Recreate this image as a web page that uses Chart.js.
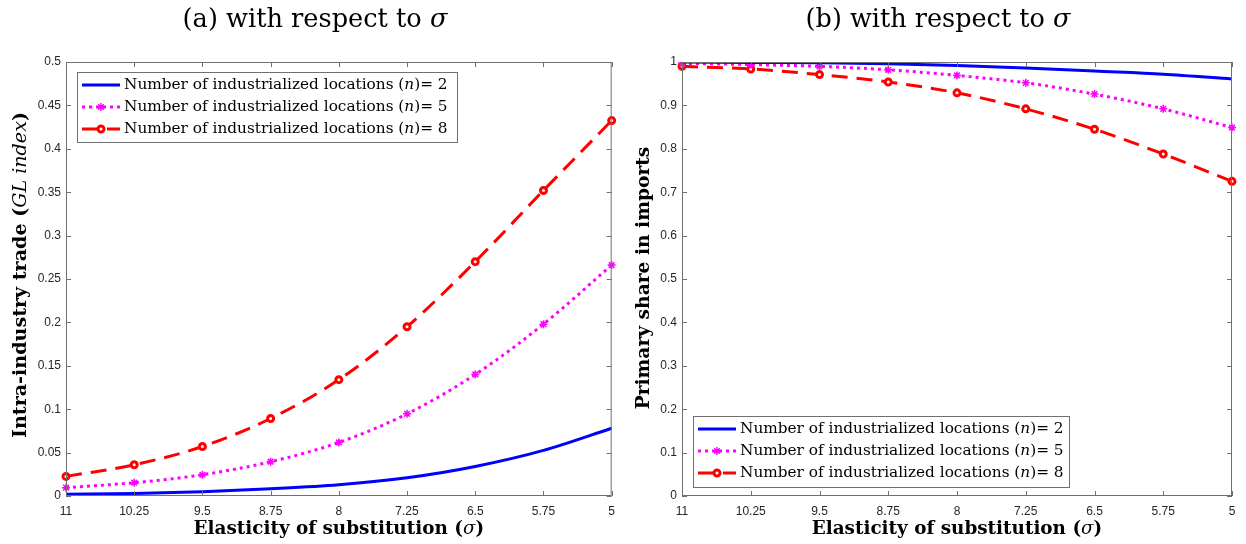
<!DOCTYPE html>
<html>
<head>
<meta charset="utf-8">
<script src="https://cdn.jsdelivr.net/npm/chart.js@4.4.1/dist/chart.umd.min.js"></script>
<style>
  body { margin: 0; background: #fff; width: 1246px; height: 544px; overflow: hidden; position: relative; }
  .panel { position: absolute; top: 0; width: 623px; height: 544px; }
</style>
</head>
<body>
<div class="panel" style="left:0"><canvas id="chartA" width="623" height="544"></canvas></div>
<div class="panel" style="left:623px"><canvas id="chartB" width="623" height="544"></canvas></div>
<script>
// elasticity of substitution (sigma), decreasing left to right
const sigmaLabels = ['11', '10.25', '9.5', '8.75', '8', '7.25', '6.5', '5.75', '5'];

// (a) intra-industry trade, GL index
const glN2 = [0.002, 0.003, 0.005, 0.0084, 0.013, 0.021, 0.034, 0.0525, 0.078];
const glN5 = [0.0096, 0.0153, 0.0245, 0.0395, 0.0617, 0.0947, 0.14, 0.198, 0.266];
const glN8 = [0.0226, 0.036, 0.057, 0.0893, 0.134, 0.195, 0.27, 0.352, 0.4325];

// (b) primary share in imports
const shareN2 = [1.0, 0.999, 0.998, 0.996, 0.992, 0.986, 0.979, 0.972, 0.961];
const shareN5 = [0.997, 0.994, 0.99, 0.982, 0.969, 0.952, 0.926, 0.892, 0.849];
const shareN8 = [0.99, 0.984, 0.971, 0.954, 0.929, 0.892, 0.845, 0.788, 0.725];

const yTicksA = [0, 0.05, 0.1, 0.15, 0.2, 0.25, 0.3, 0.35, 0.4, 0.45, 0.5];
const yTicksB = [0, 0.1, 0.2, 0.3, 0.4, 0.5, 0.6, 0.7, 0.8, 0.9, 1];

const seriesNames = ['2', '5', '8'];

const SERIF = '"DejaVu Serif", "Liberation Serif", serif';
const SANS = '"Liberation Sans", Arial, sans-serif';

function makeDatasets(a, b, c) {
  return [
    { data: a, borderColor: '#0000ff', borderWidth: 3, pointRadius: 0, fill: false },
    { data: b, borderColor: '#ff00ff', borderWidth: 3, borderDash: [3, 4],
      pointStyle: 'star', pointRadius: 4, pointBorderWidth: 1.5, pointBorderColor: '#ff00ff',
      pointBackgroundColor: '#ff00ff', fill: false },
    { data: c, borderColor: '#ff0000', borderWidth: 3, borderDash: [16, 9],
      pointStyle: 'circle', pointRadius: 3, pointBorderWidth: 3, pointBorderColor: '#ff0000',
      pointBackgroundColor: '#ffffff', fill: false }
  ];
}

// italic parts are math symbols: never bold
function fontOf(size, italic, bold) {
  return (italic ? 'italic ' : (bold ? 'bold ' : '')) + size + 'px ' + SERIF;
}

function richWidth(ctx, parts, size, bold) {
  let w = 0;
  parts.forEach(p => { ctx.font = fontOf(size, p[1], bold); w += ctx.measureText(p[0]).width; });
  return w;
}

// font size so that the text spans the wanted width
function fitSize(ctx, parts, width, bold) {
  return 20 * width / richWidth(ctx, parts, 20, bold);
}

// draw text made of [string, italic] parts
function drawRich(ctx, parts, x, y, size, bold, align) {
  const total = richWidth(ctx, parts, size, bold);
  let cx = align === 'left' ? x : x - total / 2;
  ctx.textBaseline = 'middle';
  ctx.textAlign = 'left';
  parts.forEach(p => {
    ctx.font = fontOf(size, p[1], bold);
    ctx.fillText(p[0], cx, y);
    cx += ctx.measureText(p[0]).width;
  });
}

const decorPlugin = {
  id: 'decor',
  afterDatasetsDraw(chart, args, opts) {
    const ctx = chart.ctx;
    const area = chart.chartArea;
    const xs = chart.scales.x, ys = chart.scales.y;
    ctx.save();
    // frame with inward ticks
    ctx.strokeStyle = '#707070';
    ctx.lineWidth = 1;
    ctx.setLineDash([]);
    ctx.strokeRect(area.left + 0.5, area.top + 0.5, area.width - 1, area.height - 1);
    ctx.beginPath();
    xs.ticks.forEach((t, i) => {
      const px = Math.round(xs.getPixelForTick(i)) + 0.5;
      ctx.moveTo(px, area.bottom); ctx.lineTo(px, area.bottom - 5);
      ctx.moveTo(px, area.top); ctx.lineTo(px, area.top + 5);
    });
    ys.ticks.forEach(t => {
      const py = Math.round(ys.getPixelForValue(t.value)) + 0.5;
      ctx.moveTo(area.left, py); ctx.lineTo(area.left + 5, py);
      ctx.moveTo(area.right, py); ctx.lineTo(area.right - 5, py);
    });
    ctx.stroke();

    ctx.fillStyle = '#000';
    // panel title
    drawRich(ctx, opts.title, 315, 20, fitSize(ctx, opts.title, 265, false), false, 'center');
    // x axis title
    const xTitle = [['Elasticity of substitution (', false], ['σ', true], [')', false]];
    drawRich(ctx, xTitle, (area.left + area.right) / 2, 529, fitSize(ctx, xTitle, 291, true), true, 'center');
    // y axis title
    ctx.save();
    ctx.translate(opts.yTitleX, opts.yTitleY);
    ctx.rotate(-Math.PI / 2);
    drawRich(ctx, opts.yTitle, 0, 0, fitSize(ctx, opts.yTitle, opts.yTitleW, true), true, 'center');
    ctx.restore();

    // legend box
    const lg = opts.legend;
    const rows = seriesNames.map(n => [['Number of industrialized locations (', false], ['n', true], [')= ' + n, false]]);
    const lgSize = fitSize(ctx, rows[2], 324, false);
    ctx.fillStyle = '#fff';
    ctx.fillRect(lg.x, lg.y, lg.w, lg.h);
    ctx.strokeStyle = '#707070';
    ctx.lineWidth = 1;
    ctx.strokeRect(lg.x + 0.5, lg.y + 0.5, lg.w, lg.h);
    chart.data.datasets.forEach((ds, i) => {
      const cy = lg.y + 13 + 22 * i;
      ctx.strokeStyle = ds.borderColor;
      ctx.lineWidth = ds.borderWidth;
      ctx.setLineDash(ds.borderDash || []);
      ctx.beginPath();
      ctx.moveTo(lg.x + 5, cy); ctx.lineTo(lg.x + 43, cy);
      ctx.stroke();
      ctx.setLineDash([]);
      if (ds.pointRadius) {
        ctx.fillStyle = ds.pointBackgroundColor;
        ctx.strokeStyle = ds.pointBorderColor;
        ctx.lineWidth = ds.pointBorderWidth;
        Chart.helpers.drawPoint(ctx, {
          pointStyle: ds.pointStyle, radius: ds.pointRadius, borderWidth: ds.pointBorderWidth, rotation: 0
        }, lg.x + 24, cy);
      }
      ctx.fillStyle = '#000';
      drawRich(ctx, rows[i], lg.x + 47, cy, lgSize, false, 'left');
    });
    ctx.restore();
  }
};

function makeChart(id, datasets, yTicks, yMax, yAxisWidth, rightPad, opts) {
  return new Chart(document.getElementById(id), {
    type: 'line',
    data: { labels: sigmaLabels, datasets: datasets },
    plugins: [decorPlugin],
    options: {
      responsive: false,
      animation: false,
      devicePixelRatio: 1,
      layout: { padding: { top: 62, right: rightPad, left: 0, bottom: 0 } },
      elements: { line: { cubicInterpolationMode: 'monotone' } },
      plugins: { legend: { display: false }, tooltip: { enabled: false }, title: { display: false }, decor: opts },
      scales: {
        x: {
          type: 'category',
          offset: false,
          grid: { display: false, drawTicks: false },
          border: { display: false },
          ticks: { color: '#262626', font: { family: SANS, size: 12 }, padding: 8, maxRotation: 0, autoSkip: false },
          afterFit: s => { s.height = 48; }
        },
        y: {
          min: 0,
          max: yMax,
          grid: { display: false, drawTicks: false },
          border: { display: false },
          afterBuildTicks: s => { s.ticks = yTicks.map(v => ({ value: v })); },
          ticks: { color: '#262626', font: { family: SANS, size: 12 }, padding: 5,
            callback: v => String(Number(v.toFixed(2))) },
          afterFit: s => { s.width = yAxisWidth; }
        }
      }
    }
  });
}

makeChart('chartA', makeDatasets(glN2, glN5, glN8), yTicksA, 0.5, 66, 6, {
  title: [['(a) with respect to ', false], ['σ', true]],
  yTitle: [['Intra-industry trade (', false], ['GL index', true], [')', false]],
  yTitleX: 21, yTitleY: 275, yTitleW: 326,
  legend: { x: 77, y: 72, w: 380, h: 70 }
});

makeChart('chartB', makeDatasets(shareN2, shareN5, shareN8), yTicksB, 1, 59, 14, {
  title: [['(b) with respect to ', false], ['σ', true]],
  yTitle: [['Primary share in imports', false]],
  yTitleX: 21, yTitleY: 278, yTitleW: 263,
  legend: { x: 70, y: 416, w: 376, h: 71 }
});
</script>
</body>
</html>
